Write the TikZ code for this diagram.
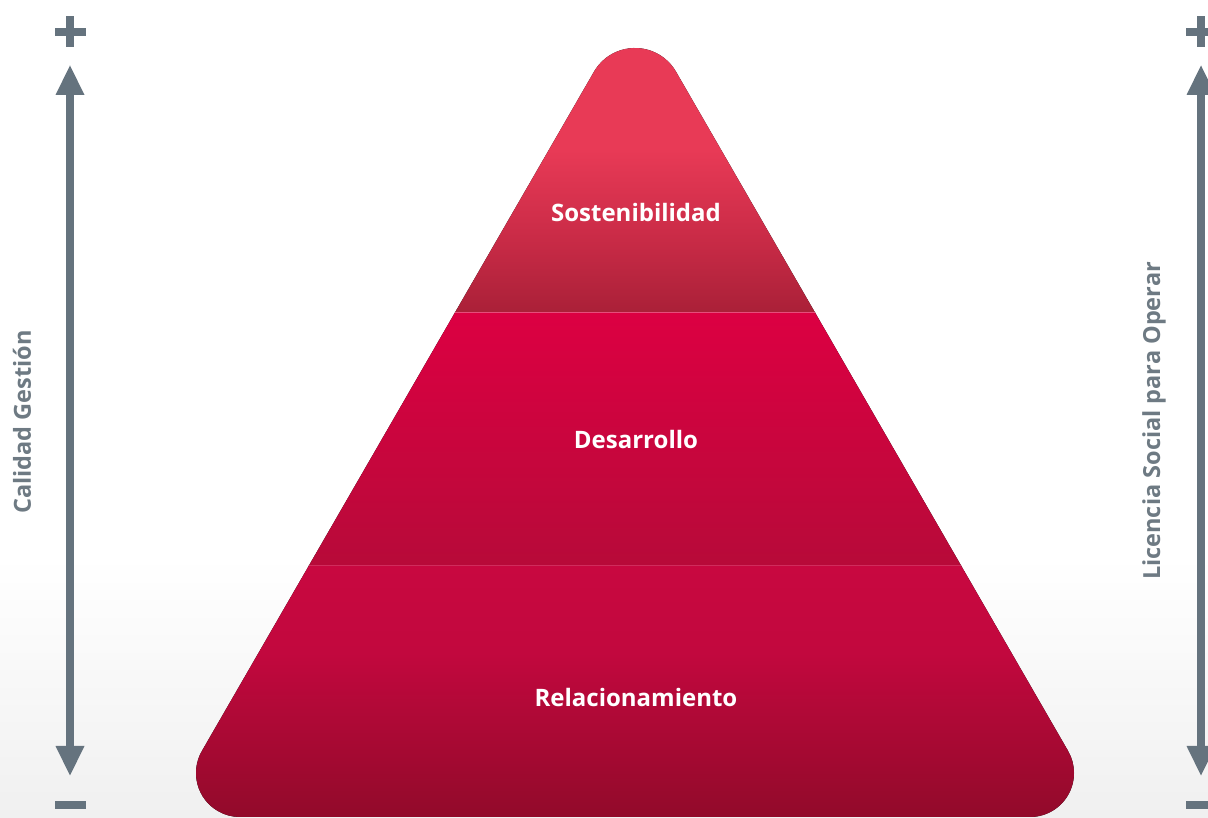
\documentclass[tikz,border=0pt]{standalone}
\usepackage{fontspec}
\setmainfont{Open Sans}
\usetikzlibrary{calc}
\definecolor{arrowgray}{RGB}{101,115,126}
\definecolor{textgray}{RGB}{110,122,131}
\definecolor{bggray}{RGB}{240,240,240}
\definecolor{topLight}{RGB}{232,58,86}
\definecolor{topMid}{RGB}{204,44,72}
\definecolor{topDark}{RGB}{170,32,56}
\definecolor{midTop}{RGB}{220,0,66}
\definecolor{midBot}{RGB}{183,10,57}
\definecolor{botTop}{RGB}{200,8,64}
\definecolor{botMid}{RGB}{194,8,62}
\definecolor{botBot}{RGB}{145,10,42}
\pgfdeclareverticalshading{toplayer}{100bp}{color(0bp)=(topDark); color(25bp)=(topDark); color(38bp)=(topMid); color(51bp)=(topLight); color(100bp)=(topLight)}
\pgfdeclareverticalshading{botlayer}{100bp}{color(0bp)=(botBot); color(25bp)=(botBot); color(58bp)=(botMid); color(75bp)=(botTop); color(100bp)=(botTop)}
\tikzset{
  levellabel/.style={text=white, font=\bfseries\fontsize{24}{28}\selectfont, inner sep=0pt},
  sidelabel/.style={text=textgray, font=\bfseries\fontsize{23.5}{27}\selectfont, inner sep=0pt, rotate=90},
  gbar/.style={fill=arrowgray},
}
\begin{document}
\begin{tikzpicture}[x=1pt,y=1pt]
\useasboundingbox (0,0) rectangle (1208,818);
% background
\fill[white] (0,0) rectangle (1208,818);
\fill[top color=white, bottom color=bggray] (0,0) rectangle (1208,262);
% pyramid geometry
\coordinate (ct) at (635,722.7);
\coordinate (cl) at (240,45);
\coordinate (cr) at (1030,45);
\begin{scope}
\clip ($(ct)+(30:47.3)$) arc[start angle=30,end angle=150,radius=47.3]
  -- ($(cl)+(150:44)$) arc[start angle=150,end angle=270,radius=44]
  -- ($(cr)+(270:44)$) arc[start angle=270,end angle=390,radius=44] -- cycle;
\fill[shading=toplayer] (150,505.5) rectangle (1120,818);
\fill[top color=midTop, bottom color=midBot] (150,252) rectangle (1120,505.5);
\fill[shading=botlayer] (150,-2) rectangle (1120,252);
\draw[white, opacity=0.3, line width=1pt] (150,505.5) -- (1120,505.5);
\draw[white, opacity=0.15, line width=1pt] (150,252) -- (1120,252);
\end{scope}
% labels
\node[levellabel] (sost) at (636,605) {Sostenibilidad};
\node[levellabel] (desa) at (636,378) {Desarrollo};
\node[levellabel] (rela) at (636,120) {Relacionamiento};
\node[sidelabel] (cal) at (22,396) {Calidad Gestión};
\node[sidelabel] (lic) at (1154,397) {Licencia Social para Operar};
% left double arrow with plus/minus
\fill[gbar] (66,72) rectangle (74,724);
\fill[gbar] (55.5,723) -- (84.5,723) -- (70,752.5) -- cycle;
\fill[gbar] (55.5,72) -- (84.5,72) -- (70,42.5) -- cycle;
\fill[gbar] (55,782) rectangle (86,790);
\fill[gbar] (66,771) rectangle (74,802);
\fill[gbar] (55,9) rectangle (86,17);
% right double arrow with plus/minus
\fill[gbar] (1197,72) rectangle (1205,724);
\fill[gbar] (1186.5,723) -- (1215.5,723) -- (1201,752.5) -- cycle;
\fill[gbar] (1186.5,72) -- (1215.5,72) -- (1201,42.5) -- cycle;
\fill[gbar] (1185.5,782) rectangle (1216.5,790);
\fill[gbar] (1197,771) rectangle (1205,802);
\fill[gbar] (1185.5,9) rectangle (1216.5,17);
\end{tikzpicture}
\end{document}
